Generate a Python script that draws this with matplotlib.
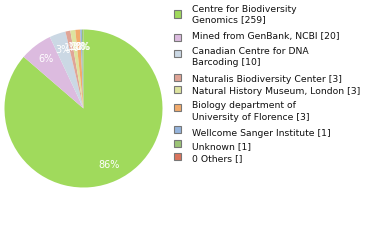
import matplotlib
matplotlib.use('Agg')
import matplotlib.pyplot as plt
from matplotlib.patches import Rectangle

# данные
labels = ['Centre for Biodiversity\nGenomics [259]',
          'Mined from GenBank, NCBI [20]',
          'Canadian Centre for DNA\nBarcoding [10]',
          'Naturalis Biodiversity Center [3]',
          'Natural History Museum, London [3]',
          'Biology department of\nUniversity of Florence [3]',
          'Wellcome Sanger Institute [1]',
          'Unknown [1]',
          '0 Others []']
values = [259, 20, 10, 3, 3, 3, 1, 1, 0]
colors = ['#a0da5c', '#dcbbdf', '#cbd8e4', '#e0a496', '#dde39f',
          '#f2ab6c', '#95b4dc', '#9cc476', '#da735c']

plt.rcParams['font.family'] = ['DejaVu Sans']

fig = plt.figure(figsize=(3.8, 2.4), dpi=100)
W, H = 380, 240

# круговая диаграмма
ax = fig.add_axes([4.5 / W, 1 - 187.5 / H, 158 / W, 158 / H])
pie_vals = [v for v in values if v > 0]
pie_cols = [c for v, c in zip(values, colors) if v > 0]
wedges, texts, autotexts = ax.pie(pie_vals, colors=pie_cols, startangle=90,
                                  counterclock=False, autopct=lambda p: f'{int(p)}%',
                                  pctdistance=0.78,
                                  textprops={'color': 'white', 'fontsize': 7})
ax.set_xlim(-1, 1)
ax.set_ylim(-1, 1)
ax.set_aspect('equal')

# легенда
patch_y = [14, 37, 53, 77, 89, 107, 129, 143, 156]
text_y = [10, 37, 52, 80, 93, 107, 135, 148, 160]
for lab, col, py, ty in zip(labels, colors, patch_y, text_y):
    fig.patches.append(Rectangle((174 / W, 1 - (py + 3.5) / H), 7 / W, 7 / H,
                                 transform=fig.transFigure, facecolor=col,
                                 edgecolor='#777777', linewidth=0.8))
    fig.text(192 / W, 1 - (ty - 5.5) / H, lab, fontsize=6.7, va='top', ha='left',
             linespacing=1.3, color='#111111')

plt.savefig('out.png', dpi=100)
